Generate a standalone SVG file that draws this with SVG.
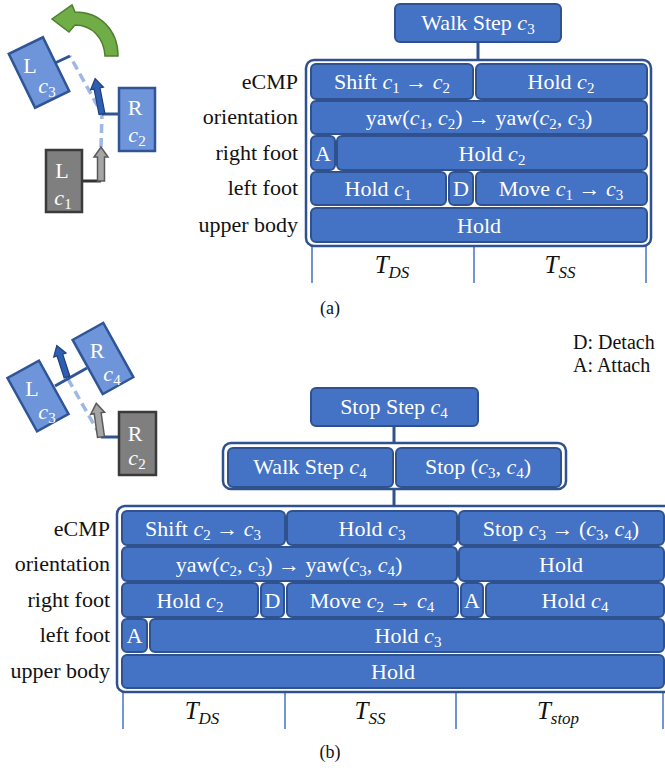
<svg xmlns="http://www.w3.org/2000/svg" width="665" height="770" viewBox="0 0 665 770">
<style>
text{font-family:"Liberation Serif","Times New Roman",serif;}
.box{fill:#4472C4;stroke:#2F528F;stroke-width:2;}
.cont{fill:#fff;stroke:#2F528F;stroke-width:2.5;}
.bt{fill:#fff;font-size:22px;text-anchor:middle;}
.lb{fill:#111;font-size:22px;text-anchor:end;}
.tl{stroke:#4472C4;stroke-width:1.5;}
.con{stroke:#2F528F;stroke-width:3;}
.i{font-style:italic;}
.s{font-size:15px;}
.tt{fill:#111;font-size:25px;text-anchor:middle;}
.ts{font-size:17px;font-style:italic;}
.cap{fill:#111;font-size:18px;text-anchor:middle;}
.footb{fill:#6E95D9;stroke:#2F5597;stroke-width:2.5;}
.footg{fill:#7F7F7F;stroke:#3A3A3A;stroke-width:2.5;}
.ft{fill:#fff;font-size:22px;text-anchor:middle;}
.dash{stroke:#9DB8E4;stroke-width:3.5;stroke-dasharray:9,5;fill:none;}
.lnb{stroke:#2F5597;stroke-width:3;}
.lng{stroke:#333;stroke-width:3;}
.arb{fill:#2F5FB0;stroke:#1F3F7F;stroke-width:1.2;}
.arg{fill:#A5A5A5;stroke:#595959;stroke-width:1.5;}
</style>

<!-- ===== (a) foot sketch ===== -->
<g id="sketch-a">
  <path class="dash" d="M101,147 L102,114 L70,56"/>
  <line class="lng" x1="82" y1="181" x2="101" y2="181"/>
  <line class="lnb" x1="102" y1="114" x2="119" y2="114"/>
  <line class="lnb" x1="55" y1="63" x2="70" y2="56"/>
  <polygon class="arg" transform="translate(101,181)" points="-3.5,0 -3.5,-24 -7,-24 0,-34 7,-24 3.5,-24 3.5,0"/>
  <polygon class="arb" transform="translate(102,114) rotate(-11)" points="-3,0 -3,-26 -6.5,-26 0,-36 6.5,-26 3,-26 3,0"/>
  <g id="foot-a-L1">
    <rect class="footg" x="46" y="150" width="36" height="62"/>
    <text class="ft" x="62" y="178">L</text>
    <text class="ft" x="63" y="205"><tspan class="i">c</tspan><tspan class="s" dy="4">1</tspan></text>
  </g>
  <g id="foot-a-R2">
    <rect class="footb" x="119" y="88" width="36" height="63"/>
    <text class="ft" x="135" y="115">R</text>
    <text class="ft" x="137" y="142"><tspan class="i">c</tspan><tspan class="s" dy="4">2</tspan></text>
  </g>
  <g id="foot-a-L3">
    <rect class="footb" x="-19" y="-30" width="38" height="60" transform="translate(39,72.5) rotate(-26)"/>
    <text class="ft" x="30" y="73">L</text>
    <text class="ft" x="47" y="93"><tspan class="i">c</tspan><tspan class="s" dy="4">3</tspan></text>
  </g>
  <path id="turn-arrow" d="M118,56 C118,30 100,12 75,12 L72,5 L52,19 L69,32 L75,25 C92,25 104,38 105,56 Z" fill="#70AD47" stroke="#507E32" stroke-width="1.5"/>
</g>

<!-- ===== connectors and time lines ===== -->
<g id="connectors">
  <line class="con" x1="478" y1="42" x2="478" y2="60"/>
  <line class="con" x1="394" y1="426" x2="394" y2="443"/>
  <line class="con" x1="394" y1="489" x2="394" y2="506"/>
  <line class="tl" x1="312" y1="246" x2="312" y2="283"/>
  <line class="tl" x1="474" y1="246" x2="474" y2="283"/>
  <line class="tl" x1="646" y1="246" x2="646" y2="283"/>
  <line class="tl" x1="123" y1="692" x2="123" y2="729"/>
  <line class="tl" x1="285" y1="692" x2="285" y2="729"/>
  <line class="tl" x1="456" y1="692" x2="456" y2="729"/>
  <line class="tl" x1="663" y1="692" x2="663" y2="729"/>
</g>

<!-- ===== (a) diagram ===== -->
<g id="walk-step-c3">
  <rect class="box" x="395" y="4" width="166" height="38" rx="5"/>
  <text class="bt" x="478" y="30">Walk Step <tspan class="i">c</tspan><tspan class="s" dy="4">3</tspan></text>
</g>

<g id="container-a">
  <rect class="cont" x="306" y="60" width="345" height="186" rx="8"/>
</g>

<g id="labels-a">
  <text class="lb" x="298" y="89">eCMP</text>
  <text class="lb" x="298" y="124">orientation</text>
  <text class="lb" x="298" y="160">right foot</text>
  <text class="lb" x="298" y="195">left foot</text>
  <text class="lb" x="298" y="232">upper body</text>
</g>

<g id="a-ecmp-shift"><rect class="box" x="311" y="64" width="162" height="35" rx="5"/>
  <text class="bt" x="392" y="89">Shift <tspan class="i">c</tspan><tspan class="s" dy="4">1</tspan><tspan dy="-4"> → </tspan><tspan class="i">c</tspan><tspan class="s" dy="4">2</tspan></text></g>
<g id="a-ecmp-hold"><rect class="box" x="476" y="64" width="171" height="35" rx="5"/>
  <text class="bt" x="561" y="89">Hold <tspan class="i">c</tspan><tspan class="s" dy="4">2</tspan></text></g>
<g id="a-orient"><rect class="box" x="311" y="101" width="336" height="33" rx="5"/>
  <text class="bt" x="479" y="125">yaw(<tspan class="i">c</tspan><tspan class="s" dy="4">1</tspan><tspan dy="-4">, </tspan><tspan class="i">c</tspan><tspan class="s" dy="4">2</tspan><tspan dy="-4">) → yaw(</tspan><tspan class="i">c</tspan><tspan class="s" dy="4">2</tspan><tspan dy="-4">, </tspan><tspan class="i">c</tspan><tspan class="s" dy="4">3</tspan><tspan dy="-4">)</tspan></text></g>
<g id="a-rf-attach"><rect class="box" x="311" y="136" width="24" height="34" rx="5"/>
  <text class="bt" x="323" y="161">A</text></g>
<g id="a-rf-hold"><rect class="box" x="337" y="136" width="310" height="34" rx="5"/>
  <text class="bt" x="492" y="161">Hold <tspan class="i">c</tspan><tspan class="s" dy="4">2</tspan></text></g>
<g id="a-lf-hold"><rect class="box" x="311" y="172" width="135" height="33" rx="5"/>
  <text class="bt" x="378" y="196">Hold <tspan class="i">c</tspan><tspan class="s" dy="4">1</tspan></text></g>
<g id="a-lf-detach"><rect class="box" x="449" y="172" width="24" height="33" rx="5"/>
  <text class="bt" x="461" y="196">D</text></g>
<g id="a-lf-move"><rect class="box" x="476" y="172" width="171" height="33" rx="5"/>
  <text class="bt" x="561" y="196">Move <tspan class="i">c</tspan><tspan class="s" dy="4">1</tspan><tspan dy="-4"> → </tspan><tspan class="i">c</tspan><tspan class="s" dy="4">3</tspan></text></g>
<g id="a-ub-hold"><rect class="box" x="311" y="208" width="336" height="34" rx="5"/>
  <text class="bt" x="479" y="233">Hold</text></g>

<g id="times-a">
  <text class="tt" x="392" y="273"><tspan class="i">T</tspan><tspan class="ts" dy="5">DS</tspan></text>
  <text class="tt" x="560" y="273"><tspan class="i">T</tspan><tspan class="ts" dy="5">SS</tspan></text>
</g>
<text class="cap" x="330" y="314">(a)</text>

<!-- ===== legend ===== -->
<g id="legend">
  <text x="573" y="349" font-size="20" fill="#111">D: Detach</text>
  <text x="573" y="372" font-size="20" fill="#111">A: Attach</text>
</g>

<!-- ===== (b) foot sketch ===== -->
<g id="sketch-b">
  <path class="dash" d="M68,379 L101,437"/>
  <line class="lnb" x1="55" y1="386" x2="87" y2="368"/>
  <line class="lnb" x1="101" y1="437" x2="119" y2="437"/>
  <polygon class="arg" transform="translate(101,437) rotate(-8)" points="-3.5,0 -3.5,-24 -7,-24 0,-34 7,-24 3.5,-24 3.5,0"/>
  <polygon class="arb" transform="translate(67,377) rotate(-18)" points="-3,0 -3,-23 -6.5,-23 0,-33 6.5,-23 3,-23 3,0"/>
  <g id="foot-b-L3">
    <rect class="footb" x="-18" y="-30.5" width="36" height="61" transform="translate(38,396) rotate(-29)"/>
    <text class="ft" x="32" y="396">L</text>
    <text class="ft" x="47" y="419"><tspan class="i">c</tspan><tspan class="s" dy="4">3</tspan></text>
  </g>
  <g id="foot-b-R4">
    <rect class="footb" x="-17.5" y="-31" width="35" height="62" transform="translate(103,358.5) rotate(-29)"/>
    <text class="ft" x="97" y="358">R</text>
    <text class="ft" x="112" y="381"><tspan class="i">c</tspan><tspan class="s" dy="4">4</tspan></text>
  </g>
  <g id="foot-b-R2">
    <rect class="footg" x="119" y="412" width="37" height="63"/>
    <text class="ft" x="135" y="441">R</text>
    <text class="ft" x="137" y="465"><tspan class="i">c</tspan><tspan class="s" dy="4">2</tspan></text>
  </g>
</g>

<!-- ===== (b) diagram ===== -->
<g id="stop-step-c4">
  <rect class="box" x="311" y="388" width="167" height="38" rx="5"/>
  <text class="bt" x="394" y="414">Stop Step <tspan class="i">c</tspan><tspan class="s" dy="4">4</tspan></text>
</g>

<g id="container-mid">
  <rect class="cont" x="223" y="443" width="343" height="46" rx="8"/>
</g>
<g id="walk-step-c4"><rect class="box" x="228" y="448" width="165" height="39" rx="5"/>
  <text class="bt" x="310" y="474">Walk Step <tspan class="i">c</tspan><tspan class="s" dy="4">4</tspan></text></g>
<g id="stop-c3c4"><rect class="box" x="396" y="448" width="165" height="39" rx="5"/>
  <text class="bt" x="478" y="474">Stop (<tspan class="i">c</tspan><tspan class="s" dy="4">3</tspan><tspan dy="-4">, </tspan><tspan class="i">c</tspan><tspan class="s" dy="4">4</tspan><tspan dy="-4">)</tspan></text></g>

<g id="container-b">
  <rect class="cont" x="117" y="506" width="555" height="186" rx="8"/>
</g>

<g id="labels-b">
  <text class="lb" x="110" y="536">eCMP</text>
  <text class="lb" x="110" y="571">orientation</text>
  <text class="lb" x="110" y="607">right foot</text>
  <text class="lb" x="110" y="642">left foot</text>
  <text class="lb" x="110" y="678">upper body</text>
</g>

<g id="b-ecmp-shift"><rect class="box" x="122" y="511" width="163" height="34" rx="5"/>
  <text class="bt" x="203" y="536">Shift <tspan class="i">c</tspan><tspan class="s" dy="4">2</tspan><tspan dy="-4"> → </tspan><tspan class="i">c</tspan><tspan class="s" dy="4">3</tspan></text></g>
<g id="b-ecmp-hold"><rect class="box" x="287" y="511" width="170" height="34" rx="5"/>
  <text class="bt" x="372" y="536">Hold <tspan class="i">c</tspan><tspan class="s" dy="4">3</tspan></text></g>
<g id="b-ecmp-stop"><rect class="box" x="459" y="511" width="205" height="34" rx="5"/>
  <text class="bt" x="561" y="536">Stop <tspan class="i">c</tspan><tspan class="s" dy="4">3</tspan><tspan dy="-4"> → (</tspan><tspan class="i">c</tspan><tspan class="s" dy="4">3</tspan><tspan dy="-4">, </tspan><tspan class="i">c</tspan><tspan class="s" dy="4">4</tspan><tspan dy="-4">)</tspan></text></g>
<g id="b-orient"><rect class="box" x="122" y="547" width="335" height="34" rx="5"/>
  <text class="bt" x="289" y="572">yaw(<tspan class="i">c</tspan><tspan class="s" dy="4">2</tspan><tspan dy="-4">, </tspan><tspan class="i">c</tspan><tspan class="s" dy="4">3</tspan><tspan dy="-4">) → yaw(</tspan><tspan class="i">c</tspan><tspan class="s" dy="4">3</tspan><tspan dy="-4">, </tspan><tspan class="i">c</tspan><tspan class="s" dy="4">4</tspan><tspan dy="-4">)</tspan></text></g>
<g id="b-orient-hold"><rect class="box" x="459" y="547" width="205" height="34" rx="5"/>
  <text class="bt" x="561" y="572">Hold</text></g>
<g id="b-rf-hold"><rect class="box" x="122" y="583" width="136" height="34" rx="5"/>
  <text class="bt" x="190" y="608">Hold <tspan class="i">c</tspan><tspan class="s" dy="4">2</tspan></text></g>
<g id="b-rf-detach"><rect class="box" x="261" y="583" width="23" height="34" rx="5"/>
  <text class="bt" x="272.5" y="608">D</text></g>
<g id="b-rf-move"><rect class="box" x="287" y="583" width="171" height="34" rx="5"/>
  <text class="bt" x="372" y="608">Move <tspan class="i">c</tspan><tspan class="s" dy="4">2</tspan><tspan dy="-4"> → </tspan><tspan class="i">c</tspan><tspan class="s" dy="4">4</tspan></text></g>
<g id="b-rf-attach"><rect class="box" x="461" y="583" width="22" height="34" rx="5"/>
  <text class="bt" x="472" y="608">A</text></g>
<g id="b-rf-hold4"><rect class="box" x="486" y="583" width="178" height="34" rx="5"/>
  <text class="bt" x="575" y="608">Hold <tspan class="i">c</tspan><tspan class="s" dy="4">4</tspan></text></g>
<g id="b-lf-attach"><rect class="box" x="122" y="619" width="25" height="33" rx="5"/>
  <text class="bt" x="134.5" y="643">A</text></g>
<g id="b-lf-hold"><rect class="box" x="150" y="619" width="514" height="33" rx="5"/>
  <text class="bt" x="408" y="643">Hold <tspan class="i">c</tspan><tspan class="s" dy="4">3</tspan></text></g>
<g id="b-ub-hold"><rect class="box" x="122" y="655" width="542" height="33" rx="5"/>
  <text class="bt" x="393" y="679">Hold</text></g>

<g id="times-b">
  <text class="tt" x="202" y="719"><tspan class="i">T</tspan><tspan class="ts" dy="5">DS</tspan></text>
  <text class="tt" x="370" y="719"><tspan class="i">T</tspan><tspan class="ts" dy="5">SS</tspan></text>
  <text class="tt" x="558" y="719"><tspan class="i">T</tspan><tspan class="ts" dy="5">stop</tspan></text>
</g>
<text class="cap" x="330" y="758">(b)</text>
</svg>
